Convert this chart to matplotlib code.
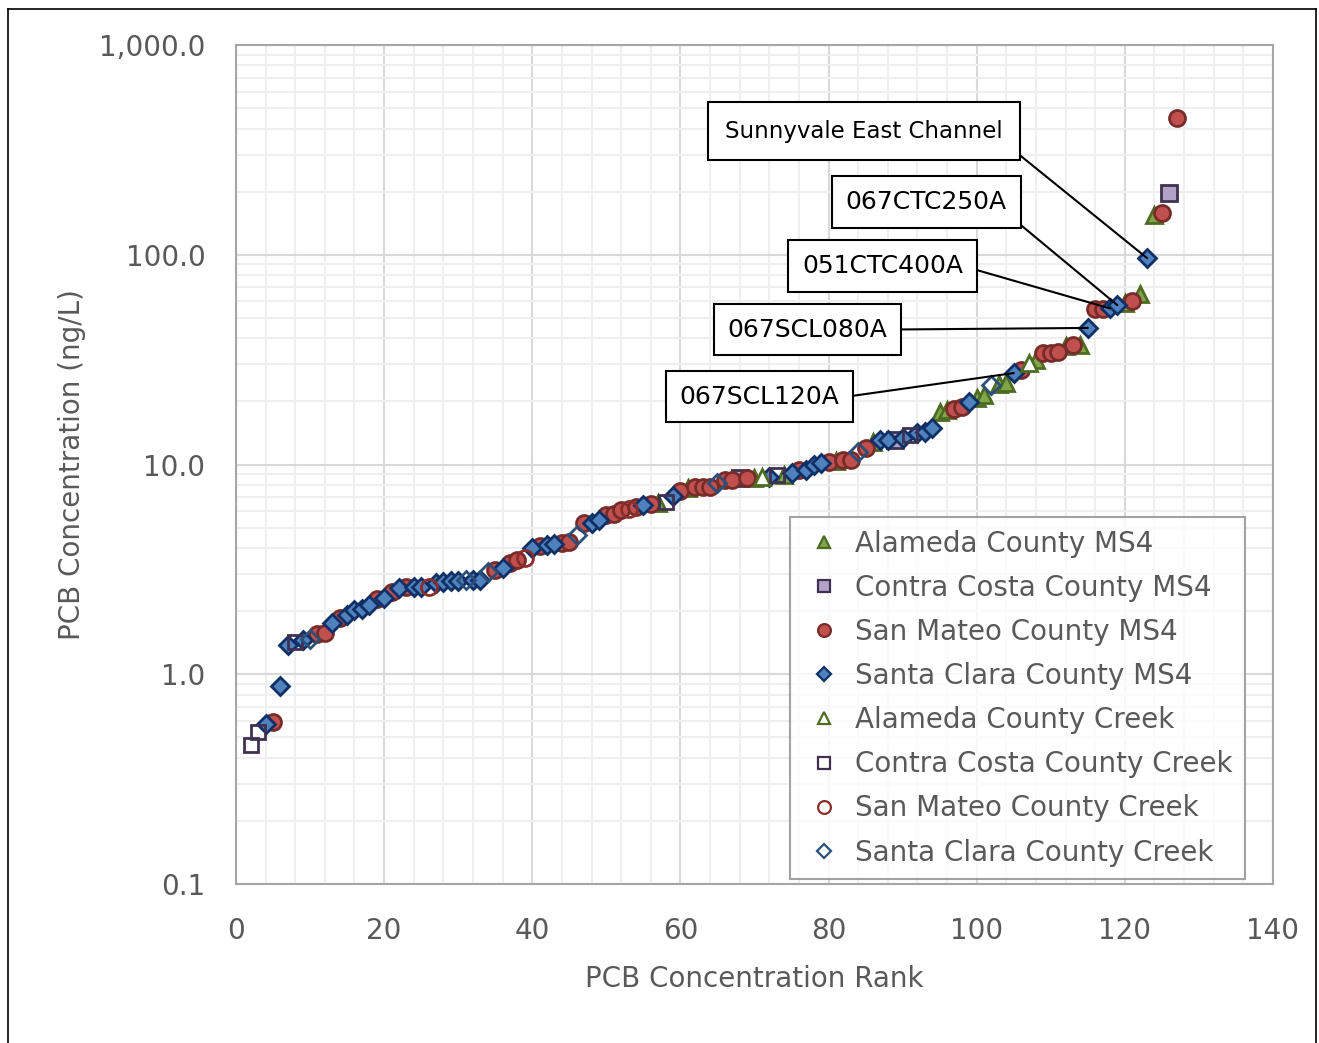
import matplotlib
matplotlib.use("Agg")
import matplotlib.pyplot as plt
from matplotlib.ticker import MultipleLocator, LogLocator, FuncFormatter, NullFormatter
from matplotlib.lines import Line2D

plt.rcParams['font.family'] = ['DejaVu Sans']

# ranks and concentrations (ng/L) for each series
am_rank = [57, 61, 70, 74, 81, 86, 95, 96, 100, 101, 103, 104, 108, 112, 114, 120, 122, 124]
am_val = [6.55, 7.7, 8.65, 8.9, 10.4, 12.8, 17.8, 18.2, 20.8, 21.4, 24.2, 24.5, 31.5, 36.8, 37.3, 59.0, 65.0, 155]

cm_rank = [68, 89, 126]
cm_val = [8.6, 13.1, 197]

sm_rank = [5, 11, 12, 14, 19, 21, 23, 35, 37, 38, 41, 44, 45, 47, 50, 51, 52, 54, 56,
           60, 62, 63, 64, 66, 67, 69, 76, 80, 82, 83, 85, 97, 98, 106, 109, 110, 111,
           113, 116, 117, 121, 125, 127]
sm_val = [0.59, 1.55, 1.57, 1.85, 2.28, 2.47, 2.60, 3.15, 3.39, 3.5, 4.1, 4.24, 4.26, 5.26,
          5.74, 5.8, 6.1, 6.25, 6.5, 7.5, 7.8, 7.8, 7.85, 8.4, 8.4, 8.6, 9.4, 10.3, 10.5, 10.5,
          12.0, 18.4, 18.8, 28.2, 34.0, 34.2, 34.4, 37.1, 55.0, 55.2, 60.2, 158, 449]

km_rank = [4, 6, 7, 9, 13, 15, 16, 17, 18, 20, 22, 24, 25, 27, 28, 29, 30, 32, 33, 36,
           40, 42, 43, 48, 49, 55, 59, 72, 75, 77, 78, 79, 87, 88, 90, 92, 93, 94, 99,
           105, 115, 118, 119, 123]
km_val = [0.58, 0.88, 1.38, 1.45, 1.75, 1.92, 2.02, 2.05, 2.15, 2.30, 2.58, 2.61, 2.61,
          2.73, 2.75, 2.78, 2.80, 2.81, 2.82, 3.2, 4.0, 4.13, 4.2, 5.28, 5.44, 6.4, 7.1,
          8.7, 9.1, 9.4, 9.95, 10.2, 13.1, 13.1, 13.4, 14.1, 14.3, 14.9, 19.9, 27.3, 44.8,
          55.5, 57.5, 96.5]

ac_rank = [71, 107]
ac_val = [8.7, 30.5]

cc_rank = [2, 3, 8, 58, 73, 91]
cc_val = [0.46, 0.53, 1.42, 6.6, 8.9, 13.8]

sc_rank = [26, 39, 53]
sc_val = [2.62, 3.58, 6.15]

kc_rank = [10, 31, 34, 46, 65, 84, 102]
kc_val = [1.47, 2.81, 3.07, 4.6, 8.2, 11.5, 23.9]

site_labels = ["Sunnyvale East Channel", "067CTC250A", "051CTC400A", "067SCL080A", "067SCL120A"]
site_ranks = [123, 119, 118, 115, 105]

fig = plt.figure(figsize=(13.19, 10.43), dpi=100)
ax = fig.add_axes([0.1789, 0.1524, 0.7862, 0.8044])

series = [
    ("Alameda County MS4", am_rank, am_val, '^', '#7FA64A', '#4E6B22', 11.5),
    ("Contra Costa County MS4", cm_rank, cm_val, 's', '#B3A2C7', '#403152', 11.5),
    ("San Mateo County MS4", sm_rank, sm_val, 'o', '#C0504D', '#772C2A', 11.5),
    ("Santa Clara County MS4", km_rank, km_val, 'D', '#4F81BD', '#0F2F66', 9),
    ("Alameda County Creek", ac_rank, ac_val, '^', 'white', '#4E6B22', 11.5),
    ("Contra Costa County Creek", cc_rank, cc_val, 's', 'none', '#403152', 10.5),
    ("San Mateo County Creek", sc_rank, sc_val, 'o', 'none', '#8B2E2B', 11.5),
    ("Santa Clara County Creek", kc_rank, kc_val, 'D', 'none', '#2A507A', 9),
]

handles = []
for name, xr, yv, mk, fc, ec, ms in series:
    ax.plot(xr, yv, linestyle='none', marker=mk, markersize=ms,
            markerfacecolor=fc, markeredgecolor=ec, markeredgewidth=2, label=name,
            zorder=3)
    handles.append(Line2D([], [], linestyle='none', marker=mk, markersize=ms * 0.8,
                          markerfacecolor=fc if fc != 'none' else 'white',
                          markeredgecolor=ec, markeredgewidth=1.6, label=name))

ax.set_yscale('log')
ax.set_xlim(0, 140)
ax.set_ylim(0.1, 1000)

ax.xaxis.set_major_locator(MultipleLocator(20))
ax.xaxis.set_minor_locator(MultipleLocator(4))
ax.yaxis.set_major_locator(LogLocator(base=10))
ax.yaxis.set_minor_locator(LogLocator(base=10, subs=range(2, 10)))
ax.yaxis.set_major_formatter(FuncFormatter(lambda v, p: f"{v:,.1f}"))
ax.yaxis.set_minor_formatter(NullFormatter())

ax.grid(which='major', color='#D9D9D9', linewidth=1.5, zorder=0)
ax.grid(which='minor', color='#EFEFEF', linewidth=1.5, zorder=0)
ax.set_axisbelow(True)

for s in ax.spines.values():
    s.set_color('#A6A6A6')
    s.set_linewidth(1.5)

ax.tick_params(which='both', length=0)
ax.tick_params(axis='x', labelsize=20, labelcolor='#595959', pad=24)
ax.tick_params(axis='y', labelsize=20, labelcolor='#595959', pad=22)

ax.set_xlabel("PCB Concentration Rank", fontsize=20, color='#595959')
ax.set_ylabel("PCB Concentration (ng/L)", fontsize=20, color='#595959')
ax.xaxis.set_label_coords(0.5, -0.113)
ax.xaxis.label.set_va('center')
ax.yaxis.set_label_coords(-0.158, 0.5)
ax.yaxis.label.set_va('center')
ax.yaxis.label.set_ha('center')

leg = ax.legend(handles=handles, loc='lower right', bbox_to_anchor=(0.973, 0.006),
                borderaxespad=0, fontsize=20, frameon=True, fancybox=False,
                labelspacing=0.58, handletextpad=0.3, handlelength=1.6,
                borderpad=0.45, labelcolor='#595959')
leg.get_frame().set_edgecolor('#8C8C8C')
leg.get_frame().set_linewidth(1.5)

# callouts for selected Santa Clara sites
box_pos = [(0.6056, 0.8975), (0.6658, 0.8129), (0.6234, 0.7366), (0.5511, 0.6609), (0.5049, 0.5811)]
rel = [(1, 0.05), (1, 0.02), (1, 0.5), (1, 0.5), (1, 0.45)]
fsizes = [16.5, 18, 18, 18, 18]
pads = [0.75, 0.55, 0.55, 0.55, 0.55]
for lab, rk, pos, rp, fs, pd in zip(site_labels, site_ranks, box_pos, rel, fsizes, pads):
    val = km_val[km_rank.index(rk)]
    ax.annotate(lab, xy=(rk, val), xycoords='data', xytext=pos, textcoords='axes fraction',
                ha='center', va='center', fontsize=fs, color='black',
                bbox=dict(boxstyle=f'square,pad={pd}', fc='white', ec='black', lw=1.5),
                arrowprops=dict(arrowstyle='-', color='black', lw=1.5, relpos=rp,
                                shrinkA=0, shrinkB=0),
                zorder=5)

# outer chart border
for xs, ys in [((8/1319, 8/1319), (0, 1-9/1043)), ((8/1319, 1316/1319), (1-9/1043, 1-9/1043)),
               ((1316/1319, 1316/1319), (0, 1-9/1043))]:
    fig.add_artist(Line2D(xs, ys, color='black', lw=1.2, transform=fig.transFigure))

fig.savefig("out.png", dpi=100)
